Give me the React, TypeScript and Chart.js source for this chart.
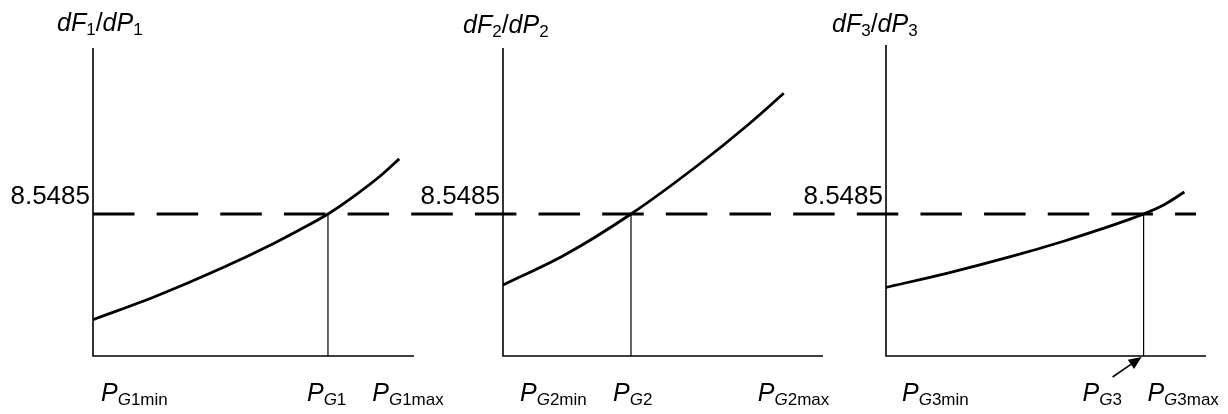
import { useEffect, useRef } from "react";
import { Chart, registerables } from "chart.js";

Chart.register(...registerables);

// Equal incremental cost (lambda) shared by all three units
const LAMBDA = 8.5485;
const LAMBDA_LABEL = "8.5485";

// Common incremental-cost axis range
const Y_MIN = 7.2;
const Y_MAX = 10.125;

// Unit 1: output (MW) and incremental cost dF1/dP1
const P1 = [100, 196, 300, 383, 422, 466, 511, 547, 577];
const DF1 = [7.545, 7.763, 8.033, 8.274, 8.399, 8.5485, 8.738, 8.907, 9.072];
const P1_AXIS = [100, 600];
const PG1_MIN = 100;
const PG1 = 466;
const PG1_MAX = 577;

// Unit 2
const P2 = [50, 127, 210, 294, 356, 401];
const DF2 = [7.874, 8.159, 8.5485, 9.014, 9.394, 9.695];
const P2_AXIS = [50, 450];
const PG2_MIN = 50;
const PG2 = 210;
const PG2_MAX = 401;

// Unit 3
const P3 = [50, 126, 209, 272, 313, 355, 372, 397, 423];
const DF3 = [7.852, 7.985, 8.15, 8.29, 8.39, 8.5, 8.5485, 8.634, 8.757];
const P3_AXIS = [50, 450];
const PG3_MIN = 50;
const PG3 = 372;
const PG3_MAX = 423;

const W = 1228;
const H = 414;
const FONT = '"Liberation Sans", Arial, Helvetica, sans-serif';
const DASH = [41.5, 22.15];
const DASH_ORIGIN = 93;

type Run = { t: string; it?: boolean; sub?: boolean };

function drawRich(
  ctx: CanvasRenderingContext2D,
  runs: Run[],
  x: number,
  y: number,
  size: number,
  subSize: number
) {
  let cx = x;
  for (const r of runs) {
    const s = r.sub ? subSize : size;
    ctx.font = `${r.it ? "italic " : ""}${s}px ${FONT}`;
    ctx.fillText(r.t, cx, r.sub ? y + 3.5 : y);
    cx += ctx.measureText(r.t).width;
  }
}

type Panel = {
  n: number;
  p: number[];
  df: number[];
  axis: number[];
  pMin: number;
  pg: number;
  pMax: number;
  left: number;
  right: number;
  axisTopExtra: number;
  titleDx: number;
  titleY: number;
  minDx: number;
  pgDx: number;
  maxDx: number;
  guideFrom: number;
  guideTo: number;
  arrow?: boolean;
};

const TOP = 48;
const BOTTOM = 356;

const PANELS: Panel[] = [
  {
    n: 1, p: P1, df: DF1, axis: P1_AXIS, pMin: PG1_MIN, pg: PG1, pMax: PG1_MAX,
    left: 93, right: 414, axisTopExtra: 0, titleDx: -36, titleY: 31,
    minDx: 8, pgDx: -21, maxDx: -27, guideFrom: 93, guideTo: 462,
  },
  {
    n: 2, p: P2, df: DF2, axis: P2_AXIS, pMin: PG2_MIN, pg: PG2, pMax: PG2_MAX,
    left: 503, right: 823, axisTopExtra: 0, titleDx: -40, titleY: 33,
    minDx: 17, pgDx: -18, maxDx: -26, guideFrom: 462, guideTo: 846,
  },
  {
    n: 3, p: P3, df: DF3, axis: P3_AXIS, pMin: PG3_MIN, pg: PG3, pMax: PG3_MAX,
    left: 886, right: 1206, axisTopExtra: 3, titleDx: -54, titleY: 32,
    minDx: 16, pgDx: -61, maxDx: -37, guideFrom: 846, guideTo: 1196, arrow: true,
  },
];

function PanelChart({ cfg }: { cfg: Panel }) {
  const ref = useRef<HTMLCanvasElement>(null);

  useEffect(() => {
    if (!ref.current) return;
    const n = String(cfg.n);

    const decor = {
      id: "decor",
      beforeDatasetsDraw(chart: any) {
        const { ctx, chartArea, scales } = chart;
        const ly = scales.y.getPixelForValue(LAMBDA);
        ctx.save();
        // dashed lambda guide, phase-locked across the three panels
        ctx.strokeStyle = "#000";
        ctx.lineWidth = 3;
        ctx.lineCap = "butt";
        ctx.setLineDash(DASH);
        ctx.lineDashOffset = cfg.guideFrom - DASH_ORIGIN;
        ctx.beginPath();
        ctx.moveTo(cfg.guideFrom, ly);
        ctx.lineTo(cfg.guideTo, ly);
        ctx.stroke();
        ctx.setLineDash([]);
        // axes
        ctx.lineWidth = 1.6;
        ctx.beginPath();
        ctx.moveTo(chartArea.left, chartArea.top - cfg.axisTopExtra);
        ctx.lineTo(chartArea.left, chartArea.bottom);
        ctx.lineTo(chartArea.right, chartArea.bottom);
        ctx.stroke();
        ctx.restore();
      },
      afterDraw(chart: any) {
        const { ctx, chartArea, scales } = chart;
        const xs = scales.x;
        const ly = scales.y.getPixelForValue(LAMBDA);
        ctx.save();
        ctx.fillStyle = "#000";
        ctx.textBaseline = "alphabetic";
        ctx.textAlign = "left";

        // y-axis title
        drawRich(
          ctx,
          [
            { t: "d", it: true }, { t: "F", it: true }, { t: n, sub: true },
            { t: "/" }, { t: "d", it: true }, { t: "P", it: true }, { t: n, sub: true },
          ],
          chartArea.left + cfg.titleDx, cfg.titleY, 25, 17
        );

        // lambda value
        ctx.font = `26px ${FONT}`;
        ctx.textAlign = "right";
        ctx.fillText(LAMBDA_LABEL, chartArea.left - 3, ly - 10);
        ctx.textAlign = "left";

        // output labels
        const by = 401;
        drawRich(ctx, [{ t: "P", it: true }, { t: "G", it: true, sub: true }, { t: n + "min", sub: true }],
          xs.getPixelForValue(cfg.pMin) + cfg.minDx, by, 25, 17);
        drawRich(ctx, [{ t: "P", it: true }, { t: "G", it: true, sub: true }, { t: n, sub: true }],
          xs.getPixelForValue(cfg.pg) + cfg.pgDx, by, 25, 17);
        drawRich(ctx, [{ t: "P", it: true }, { t: "G", it: true, sub: true }, { t: n + "max", sub: true }],
          xs.getPixelForValue(cfg.pMax) + cfg.maxDx, by, 25, 17);

        if (cfg.arrow) {
          // pointer from the PG label to the operating point on the axis
          const tx = xs.getPixelForValue(cfg.pg) - 2;
          const ty = chartArea.bottom + 1;
          const sx = tx - 29;
          const sy = ty + 20;
          const ang = Math.atan2(ty - sy, tx - sx);
          const hl = 13;
          const hw = 5.5;
          const bx = tx - hl * Math.cos(ang);
          const byy = ty - hl * Math.sin(ang);
          ctx.strokeStyle = "#000";
          ctx.lineWidth = 1.6;
          ctx.beginPath();
          ctx.moveTo(sx, sy);
          ctx.lineTo(bx, byy);
          ctx.stroke();
          ctx.beginPath();
          ctx.moveTo(tx, ty);
          ctx.lineTo(bx - hw * Math.sin(ang), byy + hw * Math.cos(ang));
          ctx.lineTo(bx + hw * Math.sin(ang), byy - hw * Math.cos(ang));
          ctx.closePath();
          ctx.fill();
        }
        ctx.restore();
      },
    };

    const chart = new Chart(ref.current, {
      type: "line",
      data: {
        datasets: [
          {
            data: cfg.p.map((x, i) => ({ x, y: cfg.df[i] })),
            borderColor: "#000",
            borderWidth: 2.8,
            pointRadius: 0,
            cubicInterpolationMode: "monotone",
            fill: false,
          },
          {
            // drop line from the operating point to the output axis
            data: [
              { x: cfg.pg, y: LAMBDA },
              { x: cfg.pg, y: Y_MIN },
            ],
            borderColor: "#000",
            borderWidth: 1.2,
            pointRadius: 0,
            fill: false,
          },
        ],
      },
      options: {
        responsive: false,
        animation: false,
        devicePixelRatio: 1,
        events: [],
        layout: {
          padding: { left: cfg.left, right: W - cfg.right, top: TOP, bottom: H - BOTTOM },
        },
        plugins: { legend: { display: false }, tooltip: { enabled: false }, title: { display: false } },
        scales: {
          x: { type: "linear", min: cfg.axis[0], max: cfg.axis[1], display: false },
          y: { type: "linear", min: Y_MIN, max: Y_MAX, display: false },
        },
      },
      plugins: [decor],
    } as any);

    return () => chart.destroy();
  }, [cfg]);

  return (
    <canvas
      ref={ref}
      width={W}
      height={H}
      style={{ position: "absolute", left: 0, top: 0, width: W, height: H, pointerEvents: "none" }}
    />
  );
}

export default function App() {
  return (
    <div style={{ position: "absolute", left: 0, top: 0, width: W, height: H, background: "#fff" }}>
      {PANELS.map((p) => (
        <PanelChart key={p.n} cfg={p} />
      ))}
    </div>
  );
}
